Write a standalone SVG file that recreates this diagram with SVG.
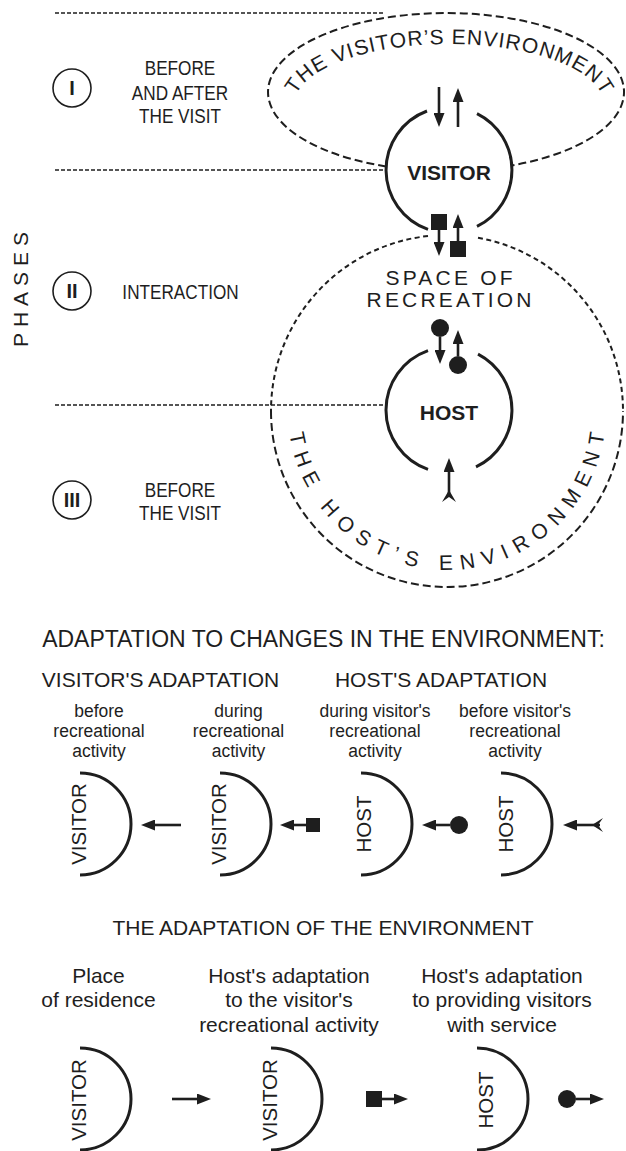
<svg xmlns="http://www.w3.org/2000/svg" width="626" height="1151" viewBox="0 0 626 1151">
<style>
.t{font-family:"Liberation Sans",Arial,sans-serif;fill:#1e1e1e}
.ln{fill:none;stroke:#1e1e1e;stroke-width:3}
.ds{fill:none;stroke:#1e1e1e;stroke-width:2;stroke-dasharray:8 4}
.dss{fill:none;stroke:#1e1e1e;stroke-width:2;stroke-dasharray:5 3.5}
.ph{fill:none;stroke:#1e1e1e;stroke-width:1.6;stroke-dasharray:4 2}
.pc{fill:none;stroke:#1e1e1e;stroke-width:1.6}
.ar{fill:none;stroke:#1e1e1e;stroke-width:2.6;marker-end:url(#ah)}
.fl{fill:#1e1e1e}
</style>
<defs>
<marker id="ah" viewBox="0 0 14 11" refX="6" refY="5.5" markerWidth="14" markerHeight="11" markerUnits="userSpaceOnUse" orient="auto"><path d="M0,0 L14,5.5 L0,11 Z" fill="#1e1e1e"/></marker>
<path id="visArc" d="M294 105 A155 61 0 0 1 604 105"/>
<path id="hostArc" d="M288 411 A159 159 0 0 0 606 411"/>
</defs>
<rect width="626" height="1151" fill="#fff"/>

<g id="phase-lines">
<line class="ph" x1="55" y1="13" x2="385" y2="13"/>
<line class="ph" x1="55" y1="170" x2="386" y2="170"/>
<line class="ph" x1="55" y1="405" x2="386" y2="405"/>
</g>

<g id="phases-label">
<text class="t" transform="translate(28,289.5) rotate(-90)" text-anchor="middle" font-size="21" letter-spacing="6" dx="3">PHASES</text>
</g>

<g id="phase-1">
<circle class="pc" cx="72" cy="88" r="19"/>
<text class="t" x="72" y="95" text-anchor="middle" font-size="20" font-weight="bold">I</text>
<g transform="translate(180,0) scale(0.88,1)">
<text class="t" x="0" y="75" text-anchor="middle" font-size="19.5">BEFORE</text>
<text class="t" x="0" y="100" text-anchor="middle" font-size="19.5">AND AFTER</text>
<text class="t" x="0" y="123" text-anchor="middle" font-size="19.5">THE VISIT</text>
</g>
</g>

<g id="phase-2">
<circle class="pc" cx="72" cy="291" r="19"/>
<text class="t" x="72" y="298" text-anchor="middle" font-size="20" font-weight="bold">II</text>
<g transform="translate(180.5,0) scale(0.88,1)">
<text class="t" x="0" y="299" text-anchor="middle" font-size="19.5">INTERACTION</text>
</g>
</g>

<g id="phase-3">
<circle class="pc" cx="72" cy="500" r="19"/>
<text class="t" x="72" y="507" text-anchor="middle" font-size="20" font-weight="bold">III</text>
<g transform="translate(180,0) scale(0.88,1)">
<text class="t" x="0" y="497" text-anchor="middle" font-size="19.5">BEFORE</text>
<text class="t" x="0" y="520" text-anchor="middle" font-size="19.5">THE VISIT</text>
</g>
</g>

<g id="visitor-environment">
<path class="ds" d="M386 166.4 A178 79 0 1 1 512 165.4"/>
<text class="t" font-size="21" letter-spacing="1"><textPath href="#visArc" startOffset="178.3" text-anchor="middle">THE VISITOR’S ENVIRONMENT</textPath></text>
</g>

<g id="space-of-recreation">
<path class="dss" d="M428 236 A176 176 0 0 0 271 411"/>
<path class="dss" d="M478 237.75 A176 176 0 0 1 623 411"/>
<path class="ds" d="M271 411 A176 176 0 0 0 623 411"/>
<text class="t" x="450.6" y="285" text-anchor="middle" font-size="21" letter-spacing="3.2">SPACE OF</text>
<text class="t" x="450.6" y="307" text-anchor="middle" font-size="21" letter-spacing="3.2">RECREATION</text>
</g>

<g id="host-environment">
<text class="t" font-size="21" letter-spacing="8"><textPath href="#hostArc" startOffset="253.8" text-anchor="middle">THE HOST’S ENVIRONMENT</textPath></text>
</g>

<g id="visitor">
<path class="ln" d="M427 111 A63 63 0 0 0 428 229.4"/>
<path class="ln" d="M477 113.6 A63 63 0 0 1 477 226.4"/>
<text class="t" x="449" y="180" text-anchor="middle" font-size="21" font-weight="bold">VISITOR</text>
</g>

<g id="host">
<path class="ln" d="M428 350.6 A63 63 0 0 0 428 469.4"/>
<path class="ln" d="M478 354.1 A63 63 0 0 1 476 466.9"/>
<text class="t" x="449" y="420" text-anchor="middle" font-size="21" font-weight="bold">HOST</text>
</g>

<g id="connectors">
<line class="ar" x1="439" y1="87" x2="439" y2="119"/>
<line class="ar" x1="458" y1="127" x2="458" y2="96"/>
<rect class="fl" x="431" y="214" width="16" height="16"/>
<line class="ar" x1="439" y1="230" x2="439" y2="248"/>
<rect class="fl" x="450" y="241" width="16" height="16"/>
<line class="ar" x1="458" y1="241" x2="458" y2="222"/>
<circle class="fl" cx="440" cy="328" r="9"/>
<line class="ar" x1="440" y1="337" x2="440" y2="356"/>
<circle class="fl" cx="458" cy="365" r="9"/>
<line class="ar" x1="458" y1="356" x2="458" y2="338"/>
<line class="ar" x1="449" y1="497" x2="449" y2="466"/>
<polygon class="fl" points="449,490 456,502 449,497 442,502"/>
</g>

<g id="legend-adaptation">
<text class="t" x="323.5" y="647" text-anchor="middle" font-size="23">ADAPTATION TO CHANGES IN THE ENVIRONMENT:</text>
<text class="t" x="160.5" y="687" text-anchor="middle" font-size="21">VISITOR'S ADAPTATION</text>
<text class="t" x="441" y="687" text-anchor="middle" font-size="21">HOST'S ADAPTATION</text>
</g>

<g id="legend-1">
<g transform="translate(99,0) scale(0.93,1)">
<text class="t" x="0" y="717" text-anchor="middle" font-size="18.8">before</text>
<text class="t" x="0" y="737" text-anchor="middle" font-size="18.8">recreational</text>
<text class="t" x="0" y="757" text-anchor="middle" font-size="18.8">activity</text>
</g>
<path class="ln" d="M80 773 A51 51 0 0 1 80 875"/>
<text class="t" transform="translate(86,824) rotate(-90)" text-anchor="middle" font-size="20.5">VISITOR</text>
<line class="ar" x1="181" y1="825" x2="149" y2="825"/>
</g>

<g id="legend-2">
<g transform="translate(238.5,0) scale(0.93,1)">
<text class="t" x="0" y="717" text-anchor="middle" font-size="18.8">during</text>
<text class="t" x="0" y="737" text-anchor="middle" font-size="18.8">recreational</text>
<text class="t" x="0" y="757" text-anchor="middle" font-size="18.8">activity</text>
</g>
<path class="ln" d="M220 773 A51 51 0 0 1 220 875"/>
<text class="t" transform="translate(226,824) rotate(-90)" text-anchor="middle" font-size="20.5">VISITOR</text>
<rect class="fl" x="306" y="818" width="14" height="14"/>
<line class="ar" x1="306" y1="825" x2="288" y2="825"/>
</g>

<g id="legend-3">
<g transform="translate(375,0) scale(0.93,1)">
<text class="t" x="0" y="717" text-anchor="middle" font-size="18.8">during visitor's</text>
<text class="t" x="0" y="737" text-anchor="middle" font-size="18.8">recreational</text>
<text class="t" x="0" y="757" text-anchor="middle" font-size="18.8">activity</text>
</g>
<path class="ln" d="M361 773 A51 51 0 0 1 361 875"/>
<text class="t" transform="translate(371,824) rotate(-90)" text-anchor="middle" font-size="20.5">HOST</text>
<circle class="fl" cx="459" cy="825" r="9"/>
<line class="ar" x1="450" y1="825" x2="430" y2="825"/>
</g>

<g id="legend-4">
<g transform="translate(515,0) scale(0.93,1)">
<text class="t" x="0" y="717" text-anchor="middle" font-size="18.8">before visitor's</text>
<text class="t" x="0" y="737" text-anchor="middle" font-size="18.8">recreational</text>
<text class="t" x="0" y="757" text-anchor="middle" font-size="18.8">activity</text>
</g>
<path class="ln" d="M501 773 A51 51 0 0 1 501 875"/>
<text class="t" transform="translate(513,824) rotate(-90)" text-anchor="middle" font-size="20.5">HOST</text>
<line class="ar" x1="600" y1="825" x2="571" y2="825"/>
<polygon class="fl" points="592,825 603,818 598,825 603,832"/>
</g>

<g id="legend-environment">
<text class="t" x="323" y="935" text-anchor="middle" font-size="21">THE ADAPTATION OF THE ENVIRONMENT</text>
</g>

<g id="env-1">
<text class="t" x="98.5" y="983" text-anchor="middle" font-size="21">Place</text>
<text class="t" x="98.5" y="1007" text-anchor="middle" font-size="21">of residence</text>
<path class="ln" d="M80 1048 A51 51 0 0 1 80 1150"/>
<text class="t" transform="translate(86,1100) rotate(-90)" text-anchor="middle" font-size="20.5">VISITOR</text>
<line class="ar" x1="172" y1="1099" x2="203" y2="1099"/>
</g>

<g id="env-2">
<text class="t" x="289" y="983" text-anchor="middle" font-size="21">Host's adaptation</text>
<text class="t" x="289" y="1007" text-anchor="middle" font-size="21">to the visitor's</text>
<text class="t" x="289" y="1032" text-anchor="middle" font-size="21">recreational activity</text>
<path class="ln" d="M271 1048 A51 51 0 0 1 271 1150"/>
<text class="t" transform="translate(277,1100) rotate(-90)" text-anchor="middle" font-size="20.5">VISITOR</text>
<rect class="fl" x="366" y="1091" width="16" height="16"/>
<line class="ar" x1="382" y1="1099" x2="400" y2="1099"/>
</g>

<g id="env-3">
<text class="t" x="502" y="983" text-anchor="middle" font-size="21">Host's adaptation</text>
<text class="t" x="502" y="1007" text-anchor="middle" font-size="21">to providing visitors</text>
<text class="t" x="502" y="1032" text-anchor="middle" font-size="21">with service</text>
<path class="ln" d="M477 1048 A51 51 0 0 1 477 1150"/>
<text class="t" transform="translate(493,1100) rotate(-90)" text-anchor="middle" font-size="20.5">HOST</text>
<circle class="fl" cx="567" cy="1099" r="9"/>
<line class="ar" x1="576" y1="1099" x2="596" y2="1099"/>
</g>
</svg>
